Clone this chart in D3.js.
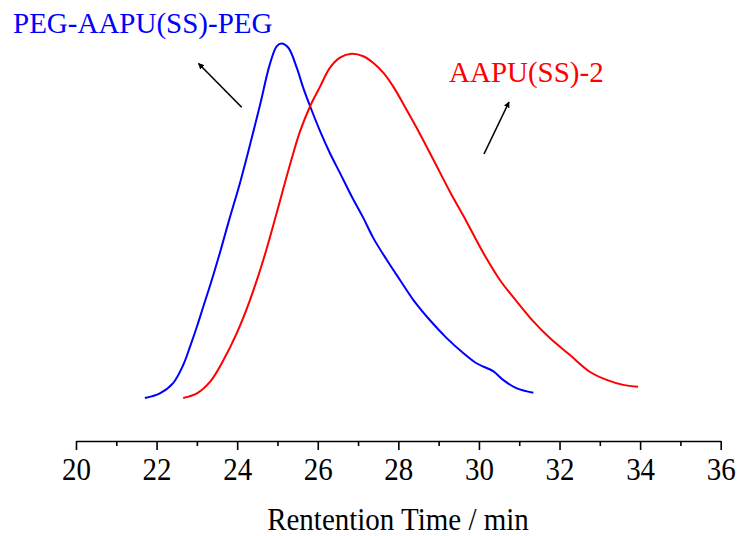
<!DOCTYPE html>
<html>
<head>
<meta charset="utf-8">
<script src="https://cdn.jsdelivr.net/npm/d3@7"></script>
<style>
  body { margin: 0; background: white; }
  svg { display: block; }
</style>
</head>
<body>
<div id="container"></div>
<script>
let w = 740;
let h = 536;

// retention time (min) and normalised detector signal
let blueTime = [21.71, 22.08, 22.41, 22.66, 22.83, 23.0, 23.16, 23.37, 23.57, 23.78, 24.08, 24.32, 24.57, 24.81, 24.98, 25.10, 25.27, 25.48, 25.64, 25.81, 26.06, 26.30, 26.55, 26.84, 27.13, 27.38, 27.71, 28.04, 28.37, 28.78, 29.20, 29.61, 29.94, 30.36, 30.60, 30.94, 31.35];
let blueSignal = [0, 0.013, 0.042, 0.093, 0.145, 0.201, 0.258, 0.333, 0.409, 0.494, 0.611, 0.715, 0.828, 0.941, 0.992, 1.0, 0.988, 0.931, 0.875, 0.823, 0.752, 0.691, 0.635, 0.569, 0.508, 0.451, 0.390, 0.333, 0.277, 0.220, 0.169, 0.127, 0.098, 0.075, 0.051, 0.027, 0.015];

let redTime = [22.66, 23.0, 23.33, 23.66, 23.99, 24.32, 24.65, 24.98, 25.31, 25.56, 25.81, 26.06, 26.30, 26.55, 26.84, 27.13, 27.38, 27.63, 27.87, 28.21, 28.45, 28.87, 29.28, 29.70, 30.11, 30.52, 30.94, 31.35, 31.76, 32.26, 32.75, 33.17, 33.58, 33.95];
let redSignal = [0, 0.013, 0.046, 0.107, 0.183, 0.277, 0.390, 0.522, 0.658, 0.752, 0.823, 0.879, 0.931, 0.960, 0.971, 0.964, 0.945, 0.917, 0.879, 0.812, 0.763, 0.672, 0.582, 0.496, 0.409, 0.333, 0.272, 0.216, 0.169, 0.121, 0.074, 0.051, 0.037, 0.032];

let majorTicks = [20, 22, 24, 26, 28, 30, 32, 34, 36];
let minorTicks = [21, 23, 25, 27, 29, 31, 33, 35];

let seriesNames = ["PEG-AAPU(SS)-PEG", "AAPU(SS)-2"];
let seriesColors = ["#0000ff", "#ff0000"];
let xTitle = "Rentention Time / min";

let font = "'Liberation Serif', 'Times New Roman', serif";

let viz = d3.select("#container").append("svg")
  .attr("width", w)
  .attr("height", h)
  .style("background-color", "white");

let xScale = d3.scaleLinear().domain([20, 36]).range([76, 720.7]);
let yScale = d3.scaleLinear().domain([0, 1]).range([398, 43.5]);

// axis at the bottom
let axisY = 441;
let minorAxis = d3.axisBottom(xScale).tickValues(minorTicks).tickSize(5).tickSizeOuter(0).tickFormat("");
let majorAxis = d3.axisBottom(xScale).tickValues(majorTicks).tickSize(9).tickSizeOuter(0).tickFormat(d3.format("d"));

viz.append("g")
  .attr("transform", "translate(0," + axisY + ")")
  .call(minorAxis)
  .call(g => g.selectAll("line").attr("stroke", "black").attr("stroke-width", 1.6))
  .call(g => g.select(".domain").remove());

let xAxisG = viz.append("g")
  .attr("transform", "translate(0," + axisY + ")")
  .call(majorAxis);

xAxisG.select(".domain").attr("stroke", "black").attr("stroke-width", 1.6);
xAxisG.selectAll(".tick line").attr("stroke", "black").attr("stroke-width", 1.6);
xAxisG.selectAll(".tick text")
  .attr("y", null)
  .attr("dy", null)
  .attr("transform", "translate(0,39) scale(1,1.12)")
  .attr("fill", "black")
  .style("font-family", font)
  .style("font-size", "29px");

viz.append("text")
  .attr("transform", "translate(398,530) scale(1,1.1)")
  .attr("text-anchor", "middle")
  .style("font-family", font)
  .style("font-size", "29px")
  .attr("fill", "black")
  .text(xTitle);

// curves
let lineMaker = d3.line()
  .x(d => xScale(d[0]))
  .y(d => yScale(d[1]))
  .curve(d3.curveCatmullRom.alpha(0.5));

let blueData = blueTime.map((t, i) => [t, blueSignal[i]]);
let redData = redTime.map((t, i) => [t, redSignal[i]]);

viz.selectAll(".trace").data([blueData, redData]).enter()
  .append("path")
  .attr("class", "trace")
  .attr("d", lineMaker)
  .attr("fill", "none")
  .attr("stroke", (d, i) => seriesColors[i])
  .attr("stroke-width", 2);

// labels and arrows
viz.append("defs").append("marker")
  .attr("id", "head")
  .attr("viewBox", "0 0 10 10")
  .attr("refX", 9)
  .attr("refY", 5)
  .attr("markerWidth", 6)
  .attr("markerHeight", 6)
  .attr("markerUnits", "userSpaceOnUse")
  .attr("orient", "auto")
  .append("path")
  .attr("d", "M0,0 L10,5 L0,10 z")
  .attr("fill", "black");

viz.append("text")
  .attr("x", 13)
  .attr("y", 33)
  .style("font-family", font)
  .style("font-size", "29px")
  .attr("fill", seriesColors[0])
  .text(seriesNames[0]);

viz.append("text")
  .attr("x", 449)
  .attr("y", 81.5)
  .style("font-family", font)
  .style("font-size", "29px")
  .attr("fill", seriesColors[1])
  .text(seriesNames[1]);

let arrows = [[241.7, 107.3, 198.5, 63.5], [484, 154, 509, 102]];
viz.selectAll(".arrow").data(arrows).enter()
  .append("line")
  .attr("class", "arrow")
  .attr("x1", d => d[0])
  .attr("y1", d => d[1])
  .attr("x2", d => d[2])
  .attr("y2", d => d[3])
  .attr("stroke", "black")
  .attr("stroke-width", 1.6)
  .attr("marker-end", "url(#head)");
</script>
</body>
</html>
